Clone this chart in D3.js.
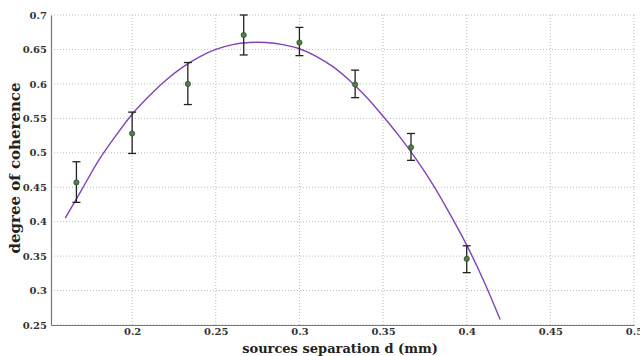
<!DOCTYPE html>
<html>
<head>
<meta charset="utf-8">
<script src="https://cdn.jsdelivr.net/npm/d3@7"></script>
<style>
	body { margin: 0; background: #fff; }
	text { font-family: 'DejaVu Serif', 'Liberation Serif', serif; }
</style>
</head>
<body>
<div id="chart"></div>
<script>
// Datos medidos (separación, coherencia y barras de error)
const sepX = [0.1667, 0.2, 0.2333, 0.2667, 0.3, 0.3333, 0.3667, 0.4];
const coherence = [0.457, 0.528, 0.6, 0.671, 0.66, 0.599, 0.508, 0.346];
const errLow = [0.428, 0.499, 0.57, 0.642, 0.641, 0.58, 0.489, 0.326];
const errHigh = [0.487, 0.559, 0.631, 0.7, 0.682, 0.62, 0.528, 0.365];

// Curva de ajuste
const fitX = [0.16, 0.17, 0.18, 0.19, 0.2, 0.21, 0.22, 0.23, 0.24, 0.25, 0.26, 0.27, 0.28, 0.29,
	0.3, 0.31, 0.32, 0.33, 0.34, 0.35, 0.36, 0.37, 0.38, 0.39, 0.4, 0.41, 0.42];
const fitY = [0.405, 0.447, 0.489, 0.524, 0.556, 0.582, 0.605, 0.624, 0.639, 0.65, 0.657, 0.66, 0.66, 0.657,
	0.651, 0.64, 0.625, 0.605, 0.581, 0.553, 0.523, 0.49, 0.453, 0.411, 0.366, 0.315, 0.258];

const xTicks = [0.2, 0.25, 0.3, 0.35, 0.4, 0.45, 0.5];
const yTicks = [0.25, 0.3, 0.35, 0.4, 0.45, 0.5, 0.55, 0.6, 0.65, 0.7];

// Configuración del gráfico
const W = 640, H = 356;
const margin = { top: 15, right: 6, bottom: 31, left: 51 };

const svg = d3.select('#chart').append('svg')
	.attr('width', W)
	.attr('height', H);

const x = d3.scaleLinear().domain([0.1515, 0.5]).range([margin.left, W - margin.right]);
const y = d3.scaleLinear().domain([0.25, 0.7]).range([H - margin.bottom, margin.top]);

// Rejilla punteada
svg.append('g').selectAll('line').data(xTicks).enter().append('line')
	.attr('x1', (d) => x(d)).attr('x2', (d) => x(d))
	.attr('y1', y(0.25)).attr('y2', y(0.7))
	.attr('stroke', '#bbb').attr('stroke-width', 1).attr('stroke-dasharray', '1,2');

svg.append('g').selectAll('line').data(yTicks).enter().append('line')
	.attr('x1', x.range()[0]).attr('x2', x.range()[1])
	.attr('y1', (d) => y(d)).attr('y2', (d) => y(d))
	.attr('stroke', '#bbb').attr('stroke-width', 1).attr('stroke-dasharray', '1,2');

// Ejes
const xAxis = svg.append('g')
	.attr('transform', `translate(0,${y(0.25)})`)
	.call(d3.axisBottom(x).tickValues(xTicks).tickFormat(d3.format('')).tickSize(0).tickPadding(3));

const yAxis = svg.append('g')
	.attr('transform', `translate(${x.range()[0]},0)`)
	.call(d3.axisLeft(y).tickValues(yTicks).tickFormat(d3.format('')).tickSize(0).tickPadding(4));

[xAxis, yAxis].forEach((g) => {
	g.select('.domain').attr('stroke', '#777').attr('stroke-width', 1.2);
	g.selectAll('text')
		.style('font-family', "'DejaVu Serif', serif")
		.style('font-weight', 'bold')
		.style('font-size', '10px')
		.attr('fill', '#333');
});

// Curva de ajuste
const line = d3.line()
	.x((d, i) => x(fitX[i]))
	.y((d) => y(d))
	.curve(d3.curveCatmullRom);

svg.append('path')
	.datum(fitY)
	.attr('d', line)
	.attr('fill', 'none')
	.attr('stroke', '#7f44b8')
	.attr('stroke-width', 1.4);

// Barras de error
const bars = svg.append('g').attr('stroke', '#222').attr('stroke-width', 1.3);
sepX.forEach((d, i) => {
	bars.append('line')
		.attr('x1', x(d)).attr('x2', x(d))
		.attr('y1', y(errLow[i])).attr('y2', y(errHigh[i]));
	[errLow[i], errHigh[i]].forEach((v) => {
		bars.append('line')
			.attr('x1', x(d) - 4).attr('x2', x(d) + 4)
			.attr('y1', y(v)).attr('y2', y(v));
	});
});

// Puntos
svg.append('g').selectAll('circle').data(coherence).enter().append('circle')
	.attr('cx', (d, i) => x(sepX[i]))
	.attr('cy', (d) => y(d))
	.attr('r', 2.6)
	.attr('fill', '#4f7f4a')
	.attr('stroke', '#2f4f2c')
	.attr('stroke-width', 0.8);

// Títulos de los ejes
svg.append('text')
	.attr('x', 340)
	.attr('y', 353)
	.attr('text-anchor', 'middle')
	.style('font-weight', 'bold')
	.style('font-size', '13px')
	.attr('fill', '#222')
	.text('sources separation d (mm)');

svg.append('text')
	.attr('transform', 'translate(20,168) rotate(-90)')
	.attr('text-anchor', 'middle')
	.style('font-weight', 'bold')
	.style('font-size', '15px')
	.attr('fill', '#222')
	.text('degree of coherence');
</script>
</body>
</html>
